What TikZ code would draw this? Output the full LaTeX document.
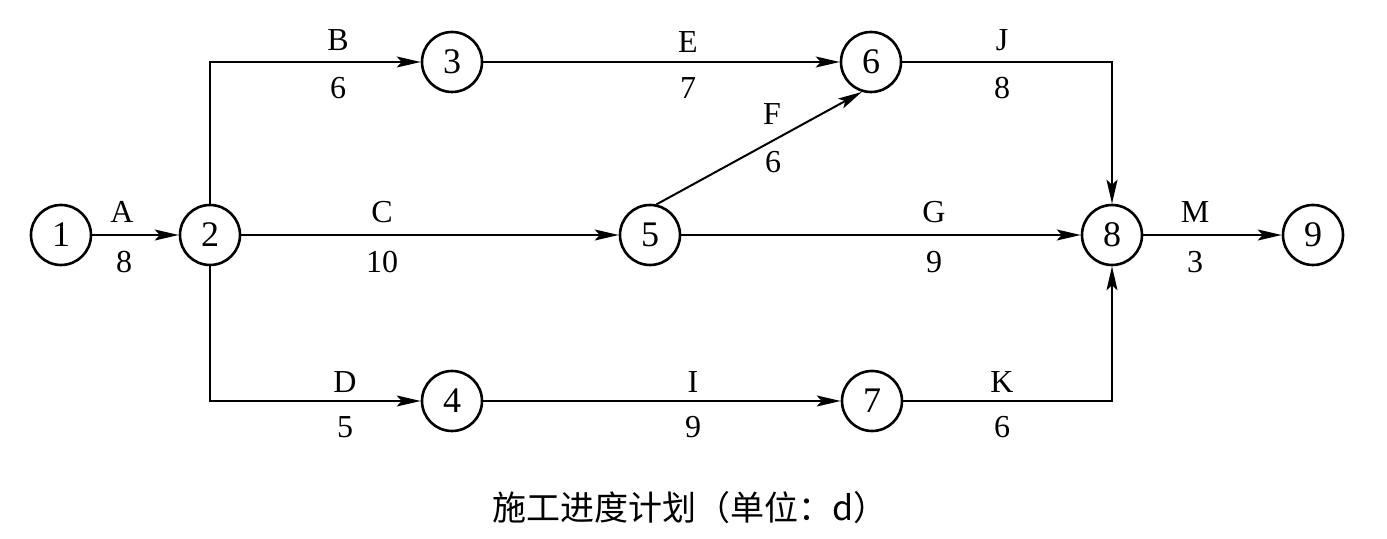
\documentclass[tikz,border=0pt]{standalone}
\usepackage{fontspec}
\setmainfont{Liberation Serif}
\newfontfamily\cjk{Noto Sans CJK SC}
\usetikzlibrary{arrows.meta}
\tikzset{
  ev/.style={circle,draw,line width=1.3pt,minimum size=30pt,inner sep=0pt,font=\fontsize{18}{18}\selectfont},
  act/.style={line width=1pt,-{Stealth[length=12pt,width=5.5pt,inset=2.5pt]}},
  lbl/.style={font=\fontsize{16}{16}\selectfont,inner sep=0pt}
}
\begin{document}
\begin{tikzpicture}[x=0.5pt,y=-0.5pt]
\useasboundingbox (0,0) rectangle (1387,539);
\node[ev] (n1) at (61,235) {1};
\node[ev] (n2) at (210,235) {2};
\node[ev] (n3) at (452,62) {3};
\node[ev] (n4) at (452,401) {4};
\node[ev] (n5) at (650,235) {5};
\node[ev] (n6) at (871,62) {6};
\node[ev] (n7) at (872,401) {7};
\node[ev] (n8) at (1112,235) {8};
\node[ev] (n9) at (1313,235) {9};

\draw[act] (n1) -- (n2);
\draw[act] (n2) |- (n3);
\draw[act] (n2) -- (n5);
\draw[act] (n2) |- (n4);
\draw[act] (n3) -- (n6);
\draw[act] (n5.78) -- (n6.253);
\draw[act] (n5) -- (n8);
\draw[act] (n6) -| (n8);
\draw[act] (n4) -- (n7);
\draw[act] (n7) -| (n8);
\draw[act] (n8) -- (n9);

\node[lbl] (lA) at (122,212) {A};
\node[lbl] (dA) at (124,262) {8};
\node[lbl] (lB) at (338,40) {B};
\node[lbl] (dB) at (338,88) {6};
\node[lbl] (lC) at (382,212) {C};
\node[lbl] (dC) at (382,262) {10};
\node[lbl] (lD) at (345,382) {D};
\node[lbl] (dD) at (345,427) {5};
\node[lbl] (lE) at (688,42) {E};
\node[lbl] (dE) at (688,88) {7};
\node[lbl] (lF) at (772,114) {F};
\node[lbl] (dF) at (773,162) {6};
\node[lbl] (lG) at (934,212) {G};
\node[lbl] (dG) at (934,262) {9};
\node[lbl] (lI) at (693,382) {I};
\node[lbl] (dI) at (693,427) {9};
\node[lbl] (lJ) at (1002,40) {J};
\node[lbl] (dJ) at (1002,88) {8};
\node[lbl] (lK) at (1002,382) {K};
\node[lbl] (dK) at (1002,427) {6};
\node[lbl] (lM) at (1195,212) {M};
\node[lbl] (dM) at (1195,262) {3};

\node[inner sep=0pt,font=\cjk\fontsize{17}{17}\selectfont] (cap) at (690,508) {施工进度计划（单位：d）};
\end{tikzpicture}
\end{document}
